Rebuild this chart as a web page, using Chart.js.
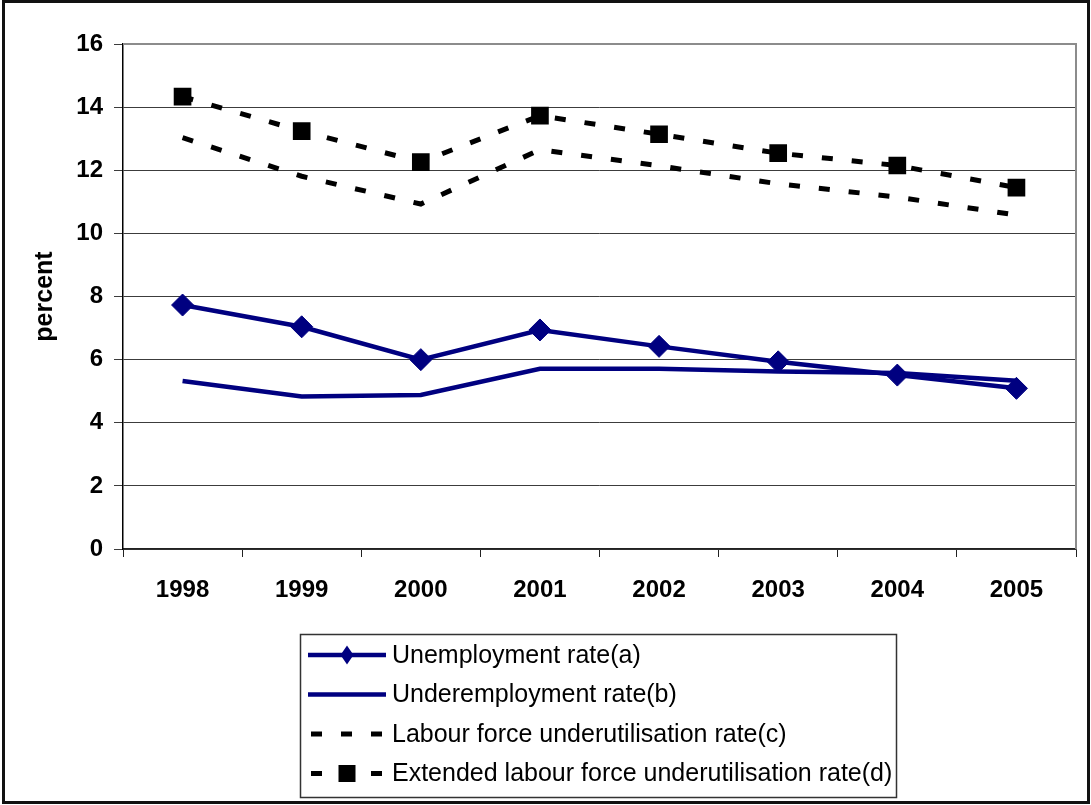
<!DOCTYPE html>
<html>
<head>
<meta charset="utf-8">
<script src="https://cdn.jsdelivr.net/npm/chart.js@4/dist/chart.umd.min.js"></script>
<style>
  html, body { margin: 0; padding: 0; background: #ffffff; }
  #wrap { width: 1091px; height: 805px; position: relative; }
</style>
</head>
<body>
<div id="wrap"><canvas id="chart"></canvas></div>
<script>
// Categories and series (percent)
const years = ['1998', '1999', '2000', '2001', '2002', '2003', '2004', '2005'];
const unemployment = [7.73, 7.04, 6.00, 6.94, 6.42, 5.93, 5.51, 5.09];
const underemployment = [5.32, 4.83, 4.88, 5.71, 5.71, 5.62, 5.58, 5.33];
const labourForce = [13.03, 11.81, 10.93, 12.65, 12.14, 11.57, 11.15, 10.58];
const extendedLabourForce = [14.33, 13.24, 12.26, 13.73, 13.14, 12.54, 12.15, 11.45];
const percentTicks = [0, 2, 4, 6, 8, 10, 12, 14, 16];

const seriesLabels = [
  'Unemployment rate(a)',
  'Underemployment rate(b)',
  'Labour force underutilisation rate(c)',
  'Extended labour force underutilisation rate(d)'
];

const NAVY = '#000080';
const FONT = 'Arial, "Liberation Sans", sans-serif';

// Boxed legend below the plot, with line + marker samples
const boxedLegend = {
  id: 'boxedLegend',
  afterDraw(chart) {
    const ctx = chart.ctx;
    const box = { x: 300.5, y: 634.5, w: 596, h: 163 };
    ctx.save();
    ctx.strokeStyle = '#333333';
    ctx.lineWidth = 1.5;
    ctx.strokeRect(box.x, box.y, box.w, box.h);

    const rowY0 = 655, rowGap = 39.5;
    const x0 = 308, x1 = 386, xm = 347;
    chart.data.datasets.forEach((ds, i) => {
      const y = rowY0 + i * rowGap;
      ctx.save();
      ctx.strokeStyle = ds.borderColor;
      ctx.lineWidth = ds.borderWidth;
      ctx.lineCap = 'butt';
      ctx.setLineDash(ds.borderDash || []);
      ctx.lineDashOffset = -3;
      ctx.beginPath();
      ctx.moveTo(x0, y);
      ctx.lineTo(x1, y);
      ctx.stroke();
      ctx.restore();

      ctx.fillStyle = ds.pointBackgroundColor || ds.borderColor;
      if (ds.pointRadius > 0 && ds.pointStyle === 'rectRot') {
        ctx.beginPath();
        ctx.moveTo(xm - 6.5, y);
        ctx.lineTo(xm, y - 9.5);
        ctx.lineTo(xm + 6.5, y);
        ctx.lineTo(xm, y + 9.5);
        ctx.closePath();
        ctx.fill();
      } else if (ds.pointRadius > 0 && ds.pointStyle === 'rect') {
        ctx.fillStyle = '#ffffff';
        ctx.fillRect(xm - 13, y - 9, 26, 18);
        ctx.fillStyle = ds.pointBackgroundColor;
        ctx.fillRect(xm - 8.5, y - 8.5, 17, 17);
      }

      ctx.fillStyle = '#000000';
      ctx.font = '25px ' + FONT;
      ctx.textBaseline = 'middle';
      ctx.textAlign = 'left';
      ctx.fillText(ds.label, 392, y + 1);
    });
    ctx.restore();
  }
};

// Plot-area right border and outer frame
const frames = {
  id: 'frames',
  beforeDraw(chart) {
    const ctx = chart.ctx;
    ctx.save();
    ctx.fillStyle = '#ffffff';
    ctx.fillRect(0, 0, chart.width, chart.height);
    ctx.restore();
  },
  afterDraw(chart) {
    const ctx = chart.ctx;
    const a = chart.chartArea;
    ctx.save();
    ctx.strokeStyle = '#8c8c8c';
    ctx.lineWidth = 2;
    ctx.beginPath();
    ctx.moveTo(a.left, a.top);
    ctx.lineTo(a.right, a.top);
    ctx.lineTo(a.right, a.bottom);
    ctx.stroke();
    ctx.strokeStyle = '#111111';
    ctx.lineWidth = 3;
    ctx.strokeRect(3.5, 1.5, 1085, 801);
    ctx.restore();
  }
};

new Chart(document.getElementById('chart'), {
  type: 'line',
  data: {
    labels: years,
    datasets: [
      {
        label: seriesLabels[0],
        data: unemployment,
        borderColor: NAVY,
        backgroundColor: NAVY,
        pointBackgroundColor: NAVY,
        pointBorderColor: NAVY,
        borderWidth: 4.5,
        pointStyle: 'rectRot',
        pointRadius: 11,
        pointBorderWidth: 1,
        tension: 0,
        order: 1
      },
      {
        label: seriesLabels[1],
        data: underemployment,
        borderColor: NAVY,
        backgroundColor: NAVY,
        borderWidth: 4.5,
        pointRadius: 0,
        tension: 0,
        order: 2
      },
      {
        label: seriesLabels[2],
        data: labourForce,
        borderColor: '#000000',
        backgroundColor: '#000000',
        borderWidth: 5,
        borderDash: [11, 19],
        borderCapStyle: 'butt',
        pointRadius: 0,
        tension: 0,
        order: 3
      },
      {
        label: seriesLabels[3],
        data: extendedLabourForce,
        borderColor: '#000000',
        backgroundColor: '#000000',
        pointBackgroundColor: '#000000',
        pointBorderColor: '#000000',
        borderWidth: 5,
        borderDash: [11, 19],
        borderCapStyle: 'butt',
        pointStyle: 'rect',
        pointRadius: 12.5,
        pointBorderWidth: 0,
        tension: 0,
        order: 4
      }
    ]
  },
  options: {
    responsive: true,
    maintainAspectRatio: false,
    animation: false,
    layout: { padding: { left: 0, top: 44, right: 15, bottom: 196 } },
    plugins: {
      legend: { display: false },
      tooltip: { enabled: false }
    },
    scales: {
      x: {
        type: 'category',
        offset: true,
        afterFit(scale) { scale.height = 60; },
        grid: {
          offset: true,
          drawOnChartArea: false,
          drawTicks: true,
          tickLength: 8,
          color: '#222222',
          lineWidth: 1
        },
        border: { display: true, color: '#222222', width: 1.5 },
        ticks: {
          color: '#000000',
          font: { family: FONT, size: 24, weight: 'bold' },
          padding: 19,
          maxRotation: 0,
          autoSkip: false
        }
      },
      y: {
        min: 0,
        max: 16,
        afterFit(scale) { scale.width = 123; },
        afterBuildTicks(scale) { scale.ticks = percentTicks.map(v => ({ value: v })); },
        grid: {
          drawTicks: true,
          tickLength: 9,
          color: '#3c3c3c',
          lineWidth: 1
        },
        border: { display: true, color: '#000000', width: 1.5 },
        ticks: {
          color: '#000000',
          font: { family: FONT, size: 24, weight: 'bold' },
          padding: 11
        },
        title: {
          display: true,
          text: 'percent',
          color: '#000000',
          font: { family: FONT, size: 25, weight: 'bold' },
          padding: { top: 30, bottom: 0 }
        }
      }
    }
  },
  plugins: [frames, boxedLegend]
});
</script>
</body>
</html>
